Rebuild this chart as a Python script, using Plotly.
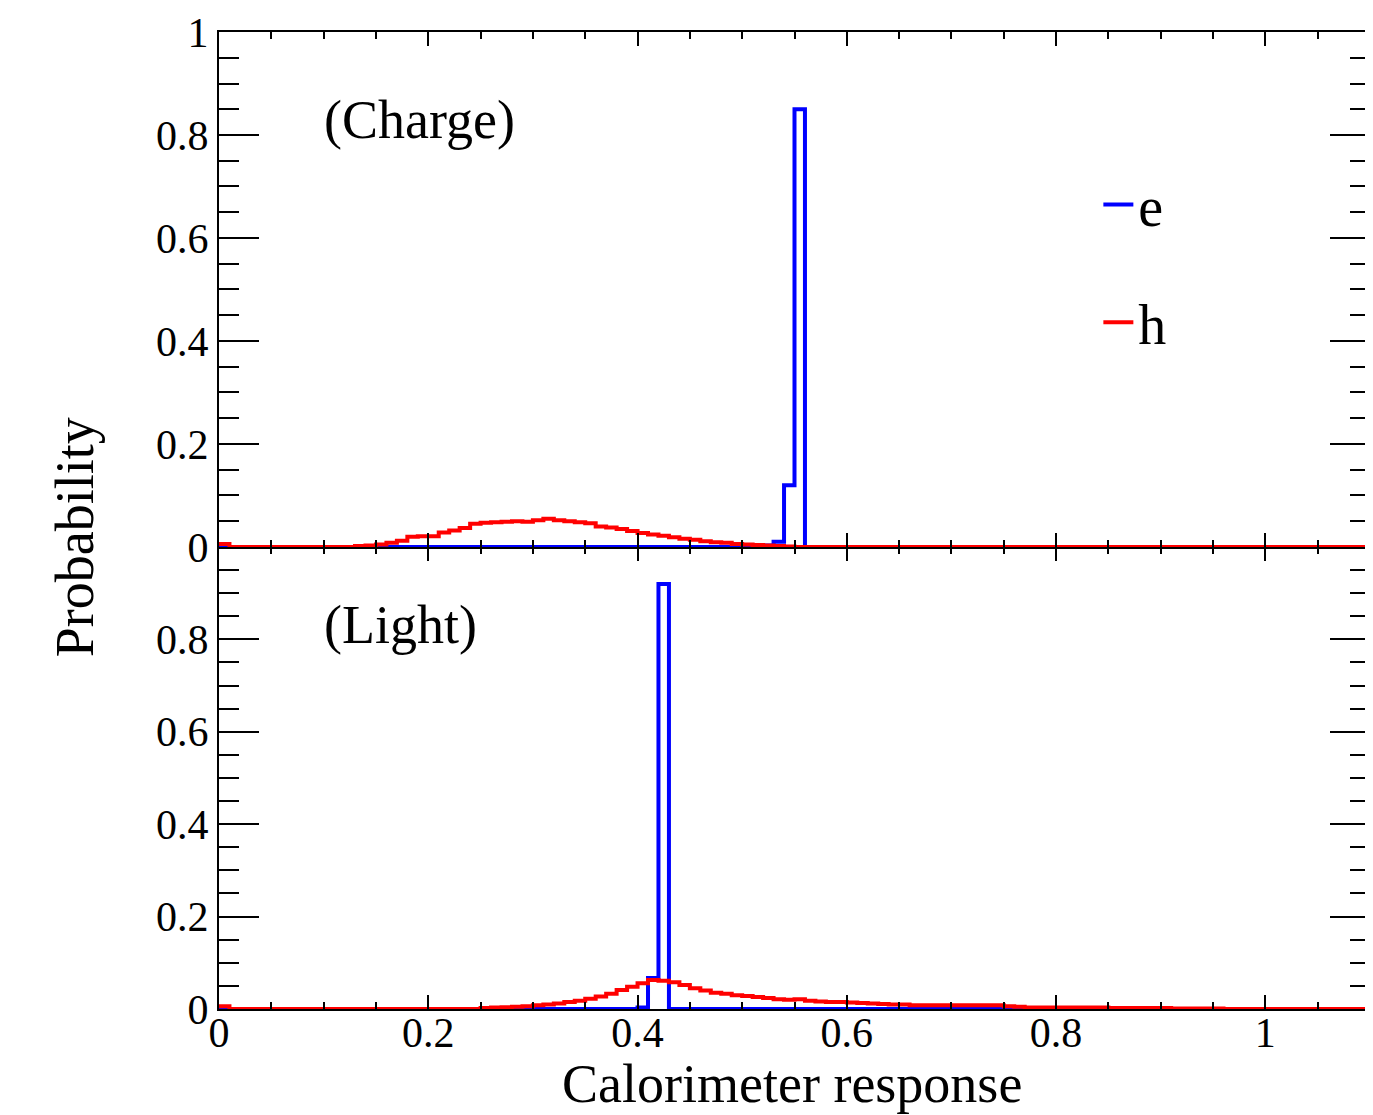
import numpy as np
import plotly.graph_objects as go

# ---------------- data (bin width 0.01, range 0 - 1.1) ----------------
bin_edges = [round(i * 0.01, 2) for i in range(111)]

# Charge: electrons (non-zero bins listed by bin index)
charge_e_bins = {51: 0.001, 52: 0.003, 53: 0.010, 54: 0.120, 55: 0.850}
# Charge: hadrons
charge_h_bins = {
    0: 0.006, 13: 0.002, 14: 0.003, 15: 0.005, 16: 0.008, 17: 0.012, 18: 0.020,
    19: 0.021, 20: 0.021, 21: 0.028, 22: 0.032, 23: 0.037, 24: 0.045, 25: 0.047,
    26: 0.048, 27: 0.049, 28: 0.050, 29: 0.049, 30: 0.052, 31: 0.055, 32: 0.052,
    33: 0.050, 34: 0.048, 35: 0.046, 36: 0.040, 37: 0.038, 38: 0.035, 39: 0.031,
    40: 0.027, 41: 0.024, 42: 0.022, 43: 0.019, 44: 0.016, 45: 0.014, 46: 0.011,
    47: 0.009, 48: 0.008, 49: 0.006, 50: 0.005, 51: 0.004, 52: 0.003, 53: 0.002,
    54: 0.001,
}
# Light: electrons
light_e_bins = {40: 0.003, 41: 0.067, 42: 0.920}
# Light: hadrons
light_h_bins = {
    0: 0.006, 25: 0.002, 26: 0.003, 27: 0.004, 28: 0.005, 29: 0.006, 30: 0.008,
    31: 0.010, 32: 0.012, 33: 0.015, 34: 0.018, 35: 0.022, 36: 0.027, 37: 0.033,
    38: 0.041, 39: 0.048, 40: 0.056, 41: 0.063, 42: 0.061, 43: 0.058, 44: 0.052,
    45: 0.045, 46: 0.040, 47: 0.035, 48: 0.033, 49: 0.030, 50: 0.028, 51: 0.026,
    52: 0.024, 53: 0.021, 54: 0.020, 55: 0.021, 56: 0.018, 57: 0.016, 58: 0.015,
    59: 0.015, 60: 0.014, 61: 0.013, 62: 0.012, 63: 0.011, 64: 0.010, 65: 0.010,
    66: 0.008, 67: 0.008, 68: 0.008, 69: 0.008, 70: 0.008, 71: 0.008, 72: 0.008,
    73: 0.008, 74: 0.008, 75: 0.006, 76: 0.005, 77: 0.003, 78: 0.003, 79: 0.003,
    80: 0.003, 81: 0.003, 82: 0.003, 83: 0.003, 84: 0.003, 85: 0.002, 86: 0.002,
    87: 0.002, 88: 0.002, 89: 0.002, 90: 0.002, 91: 0.001, 92: 0.001, 93: 0.001,
    94: 0.001, 95: 0.001,
}

x_ticks = [0, 0.2, 0.4, 0.6, 0.8, 1.0]
x_tick_text = ["0", "0.2", "0.4", "0.6", "0.8", "1"]
y_ticks_top = [0, 0.2, 0.4, 0.6, 0.8, 1.0]
y_tick_text_top = ["0", "0.2", "0.4", "0.6", "0.8", "1"]
y_ticks_bot = [0, 0.2, 0.4, 0.6, 0.8]
y_tick_text_bot = ["0", "0.2", "0.4", "0.6", "0.8"]

series_names = ["e", "h"]
panel_labels = ["(Charge)", "(Light)"]
x_title = "Calorimeter response"
y_title = "Probability"


def hist_xy(bins):
    n = len(bin_edges) - 1
    vals = [bins.get(i, 0.0) for i in range(n)]
    xs = list(bin_edges)
    ys = vals + [vals[-1]]
    return xs, ys


FONT = "Liberation Serif"
BLUE = "#0000ff"
RED = "#ff0000"

fig = go.Figure()

# bottom panel (x, y) = Light ; top panel (x2, y2) = Charge
for bins, col, name, xa, ya, show in [
    (charge_e_bins, BLUE, series_names[0], "x2", "y2", True),
    (charge_h_bins, RED, series_names[1], "x2", "y2", True),
    (light_e_bins, BLUE, series_names[0], "x", "y", False),
    (light_h_bins, RED, series_names[1], "x", "y", False),
]:
    xs, ys = hist_xy(bins)
    fig.add_trace(go.Scatter(
        x=xs, y=ys, mode="lines", line=dict(color=col, width=4, shape="hv"),
        name=name, legendgroup=name, showlegend=show, xaxis=xa, yaxis=ya,
    ))

split = 0.4729

common_x = dict(
    range=[0, 1.1], showline=True, linecolor="black", linewidth=2, mirror="allticks",
    ticks="inside", ticklen=14, tickwidth=2, tickcolor="black",
    tickmode="array", tickvals=x_ticks, ticktext=x_tick_text,
    minor=dict(ticks="inside", ticklen=7, tickwidth=2, tickcolor="black",
               tickmode="linear", tick0=0, dtick=0.05),
    showgrid=False, zeroline=False, automargin=False,
    tickfont=dict(family=FONT, size=42, color="black"),
)
common_y = dict(
    showline=True, linecolor="black", linewidth=2, mirror="allticks",
    ticks="inside", ticklen=40, tickwidth=2, tickcolor="black",
    minor=dict(ticks="inside", ticklen=20, tickwidth=2, tickcolor="black",
               tickmode="linear", tick0=0, dtick=0.05),
    showgrid=False, zeroline=False, automargin=False,
    tickfont=dict(family=FONT, size=42, color="black"),
)

fig.update_layout(
    width=1365, height=1107,
    margin=dict(l=211, r=3, t=24, b=106),
    paper_bgcolor="white", plot_bgcolor="white",
    xaxis=dict(domain=[0, 1], anchor="y", ticklabelstandoff=-14, **common_x),
    yaxis=dict(domain=[0, split], anchor="x", range=[0, 1], tickmode="array",
               tickvals=y_ticks_bot, ticktext=y_tick_text_bot, **common_y),
    xaxis2=dict(domain=[0, 1], anchor="y2", matches="x", showticklabels=False, **common_x),
    yaxis2=dict(domain=[split, 1], anchor="x2", range=[0, 1], tickmode="array",
                tickvals=y_ticks_top, ticktext=y_tick_text_top, **common_y),
    legend=dict(x=0.764, y=0.763, xanchor="left", yanchor="middle",
                font=dict(family=FONT, size=56, color="black"),
                bgcolor="rgba(0,0,0,0)", tracegroupgap=42, itemwidth=30),
    showlegend=True,
)

fig.add_annotation(text=panel_labels[0], x=0.098, y=0.83, xref="x2", yref="y2",
                   xanchor="left", yanchor="middle", showarrow=False,
                   font=dict(family=FONT, size=54, color="black"))
fig.add_annotation(text=panel_labels[1], x=0.098, y=0.831, xref="x", yref="y",
                   xanchor="left", yanchor="middle", showarrow=False,
                   font=dict(family=FONT, size=54, color="black"))
fig.add_annotation(text=x_title, x=0.498, y=-0.077, xref="paper", yref="paper",
                   xanchor="center", yanchor="middle", showarrow=False,
                   font=dict(family=FONT, size=54, color="black"))
fig.add_annotation(text=y_title, x=-0.125, y=0.483, xref="paper", yref="paper",
                   xanchor="center", yanchor="middle", showarrow=False, textangle=-90,
                   font=dict(family=FONT, size=54, color="black"))

fig.write_html("out.html")
